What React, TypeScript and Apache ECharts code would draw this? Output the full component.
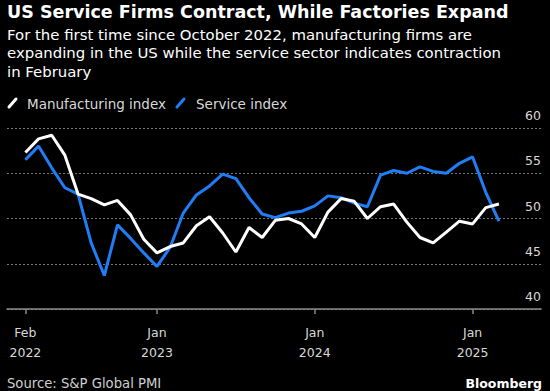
import React, { useEffect, useRef } from "react";
import * as echarts from "echarts";

// Monthly, Feb 2022 .. Feb 2025 (flash)
const months: string[] = [
  "2022-02", "2022-03", "2022-04", "2022-05", "2022-06", "2022-07", "2022-08", "2022-09", "2022-10", "2022-11", "2022-12",
  "2023-01", "2023-02", "2023-03", "2023-04", "2023-05", "2023-06", "2023-07", "2023-08", "2023-09", "2023-10", "2023-11", "2023-12",
  "2024-01", "2024-02", "2024-03", "2024-04", "2024-05", "2024-06", "2024-07", "2024-08", "2024-09", "2024-10", "2024-11", "2024-12",
  "2025-01", "2025-02",
];

const manufacturing: number[] = [
  57.3, 58.8, 59.2, 57.0, 52.7, 52.2, 51.5, 52.0, 50.4, 47.7, 46.2,
  46.9, 47.3, 49.2, 50.2, 48.4, 46.3, 49.0, 47.9, 49.8, 50.0, 49.4, 47.9,
  50.7, 52.2, 51.9, 50.0, 51.3, 51.6, 49.6, 47.9, 47.3, 48.5, 49.7, 49.4,
  51.2, 51.6,
];

const services: number[] = [
  56.5, 58.0, 55.6, 53.4, 52.7, 47.3, 43.7, 49.3, 47.8, 46.2, 44.7,
  46.8, 50.6, 52.6, 53.6, 54.9, 54.4, 52.3, 50.5, 50.1, 50.6, 50.8, 51.4,
  52.5, 52.3, 51.7, 51.3, 54.8, 55.3, 55.0, 55.7, 55.2, 55.0, 56.1, 56.8,
  52.9, 49.7,
];

// x-axis ticks sit at month ends (index into months) ~ start of the labelled month
const tickIndices: number[] = [0, 10, 22, 34];
const tickLabels: string[] = ["Feb\n2022", "Jan\n2023", "Jan\n2024", "Jan\n2025"];

const yTicks: number[] = [40, 45, 50, 55, 60];

const FONT = "'DejaVu Sans', Verdana, sans-serif";
const BLUE = "#1f7df5";

export default function App() {
  const ref = useRef<HTMLDivElement>(null);

  useEffect(() => {
    if (!ref.current) return;
    const chart = echarts.init(ref.current, undefined, { renderer: "svg" });

    const manData = manufacturing.map((v, i) => [i, v]);
    const svcData = services.map((v, i) => [i, v]);

    chart.setOption({
      animation: false,
      backgroundColor: "#000000",
      grid: { left: 7, right: 9, top: 128, bottom: 82, containLabel: false },
      xAxis: {
        type: "value",
        min: -1.4,
        max: 39.2,
        splitLine: { show: false },
        axisLine: { show: true, lineStyle: { color: "#8a8a8a", width: 1.5 } },
        axisTick: {
          show: true,
          customValues: tickIndices,
          length: 5,
          lineStyle: { color: "#8a8a8a", width: 1.5 },
        },
        axisLabel: {
          customValues: tickIndices,
          formatter: (v: number) => {
            const k = tickIndices.indexOf(Math.round(v));
            return k >= 0 ? tickLabels[k] : "";
          },
          color: "#d8d8d8",
          fontFamily: FONT,
          fontSize: 12.5,
          lineHeight: 20,
          margin: 13,
        },
      },
      yAxis: {
        type: "value",
        position: "right",
        min: yTicks[0],
        max: yTicks[yTicks.length - 1],
        interval: 5,
        axisLine: { show: false },
        axisTick: { show: false },
        splitLine: { show: true, lineStyle: { color: "#777777", type: [2, 2], width: 1 } },
        axisLabel: {
          inside: true,
          align: "right",
          verticalAlign: "bottom",
          margin: 0,
          padding: [0, 0, 6, 0],
          color: "#d8d8d8",
          fontFamily: FONT,
          fontSize: 12.5,
        },
      },
      series: [
        {
          name: "Manufacturing index",
          type: "line",
          data: manData,
          showSymbol: false,
          lineStyle: { color: "#ffffff", width: 3 },
          itemStyle: { color: "#ffffff" },
          z: 3,
        },
        {
          name: "Service index",
          type: "line",
          data: svcData,
          showSymbol: false,
          lineStyle: { color: BLUE, width: 3 },
          itemStyle: { color: BLUE },
          z: 2,
        },
      ],
      graphic: [
        {
          type: "text",
          x: 7,
          y: 3,
          style: {
            text: "US Service Firms Contract, While Factories Expand",
            fill: "#ffffff",
            font: `bold 17.5px ${FONT}`,
            textVerticalAlign: "top",
          },
        },
        {
          type: "text",
          x: 7,
          y: 26,
          style: {
            text:
              "For the first time since October 2022, manufacturing firms are\nexpanding in the US while the service sector indicates contraction\nin February",
            fill: "#ffffff",
            font: `14.9px ${FONT}`,
            lineHeight: 18.3,
            textVerticalAlign: "top",
          },
        },
        {
          type: "line",
          shape: { x1: 9, y1: 107, x2: 16, y2: 99 },
          style: { stroke: "#ffffff", lineWidth: 3, lineCap: "round" },
        },
        {
          type: "text",
          x: 27,
          y: 104,
          style: {
            text: "Manufacturing index",
            fill: "#d8d8d8",
            font: `13.5px ${FONT}`,
            textVerticalAlign: "middle",
          },
        },
        {
          type: "line",
          shape: { x1: 177, y1: 107, x2: 184, y2: 99 },
          style: { stroke: BLUE, lineWidth: 3, lineCap: "round" },
        },
        {
          type: "text",
          x: 196,
          y: 104,
          style: {
            text: "Service index",
            fill: "#d8d8d8",
            font: `13.5px ${FONT}`,
            textVerticalAlign: "middle",
          },
        },
        {
          type: "text",
          x: 7,
          y: 383,
          style: {
            text: "Source: S&P Global PMI",
            fill: "#cfcfcf",
            font: `13.2px ${FONT}`,
            textVerticalAlign: "middle",
          },
        },
        {
          type: "text",
          x: 542,
          y: 383,
          style: {
            text: "Bloomberg",
            fill: "#ffffff",
            font: `bold 12.5px ${FONT}`,
            textAlign: "right",
            textVerticalAlign: "middle",
          },
        },
      ],
    });

    return () => chart.dispose();
  }, []);

  return (
    <div
      ref={ref}
      style={{ position: "fixed", left: 0, top: 0, width: 550, height: 391, background: "#000" }}
    />
  );
}
